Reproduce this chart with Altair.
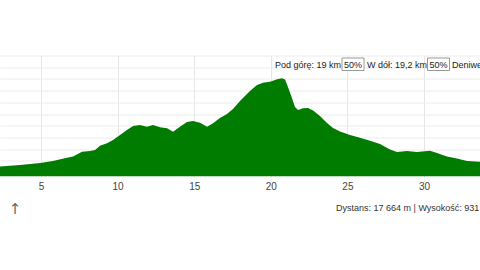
import altair as alt
import pandas as pd

# Elevation profile of the route (distance in km, elevation in m)
km = [2.32, 3.63, 4.94, 5.78, 6.70, 7.09, 7.68, 8.20, 8.53, 8.85, 9.31, 9.70,
      10.16, 10.61, 11.01, 11.46, 11.92, 12.31, 12.77, 13.23, 13.62, 14.07,
      14.53, 14.92, 15.38, 15.84, 16.23, 16.68, 17.14, 17.53, 17.99, 18.64,
      19.10, 19.49, 19.95, 20.41, 20.73, 20.93, 21.12, 21.38, 21.58, 21.78,
      22.10, 22.43, 22.76, 23.21, 23.67, 24.06, 24.52, 25.17, 25.82, 26.48,
      27.13, 27.78, 28.24, 28.89, 29.54, 30.39, 30.85, 31.50, 32.15, 32.81,
      33.66]
elev = [351, 364, 381, 398, 427, 437, 478, 484, 492, 529, 550, 578,
        621, 663, 698, 706, 692, 706, 686, 678, 649, 692,
        732, 740, 726, 692, 720, 766, 800, 843, 911, 997,
        1048, 1068, 1076, 1097, 1105, 1095, 1031, 937, 860, 834,
        849, 851, 830, 783, 723, 680, 651, 621, 598, 572,
        544, 497, 475, 484, 475, 486, 467, 437, 420, 398,
        392]

km_ticks = [5, 10, 15, 20, 25, 30]
elev_ticks = [300, 400, 500, 600, 700, 800, 900, 1000, 1100, 1200, 1300]
km_domain = [2.324, 33.656]
elev_domain = [266, 1300]

header_parts = ["Pod górę: 19 km", "50%", "W dół: 19,2 km", "50%", "Deniwelacja"]
footer_text = "Dystans: 17 664 m | Wysokość: 931"

profile = pd.DataFrame({"km": km, "elev": elev})
one = pd.DataFrame({"k": [0]})  # single row for annotation marks

FONT = "Liberation Sans"
W, H = 480, 121

area = alt.Chart(profile).mark_area(color="#007c00", clip=True).encode(
    x=alt.X(
        "km:Q",
        scale=alt.Scale(domain=km_domain, nice=False, zero=False),
        axis=alt.Axis(values=km_ticks, grid=True, gridColor="#e6e6e6", ticks=False,
                      domain=False, title=None, labelFont=FONT, labelFontSize=10,
                      labelColor="#444444", labelPadding=5),
    ),
    y=alt.Y(
        "elev:Q",
        scale=alt.Scale(domain=elev_domain, nice=False, zero=False),
        axis=alt.Axis(values=elev_ticks, grid=True, gridColor="#ececec", ticks=False,
                      domain=False, labels=False, title=None),
    ),
    y2=alt.datum(elev_domain[0]),
)

layers = [area]

# Header line: plain parts are left-aligned at their x, boxed percentages centred in a frame
header_x = [275, 353, 367, 438.5, 452]
for txt, hx in zip(header_parts, header_x):
    boxed = txt == "50%"
    if boxed:
        layers.append(
            alt.Chart(one).mark_rect(fill="white", stroke="#999999", strokeWidth=1).encode(
                x=alt.value(hx - 11), x2=alt.value(hx + 11),
                y=alt.value(2.5), y2=alt.value(15),
            )
        )
    layers.append(
        alt.Chart(one).mark_text(
            text=txt, font=FONT, fontSize=9, color="#222222",
            align="center" if boxed else "left", baseline="middle"
        ).encode(x=alt.value(hx), y=alt.value(9))
    )

layers.append(
    alt.Chart(one).mark_text(
        text=footer_text, font=FONT, fontSize=9, color="#333333", align="left", baseline="middle"
    ).encode(x=alt.value(336), y=alt.value(152.5))
)
layers.append(
    alt.Chart(one).mark_text(
        text="↑", font="DejaVu Sans", fontSize=15, color="#666666", align="center", baseline="middle"
    ).encode(x=alt.value(15), y=alt.value(153))
)

chart = alt.layer(*layers).properties(
    width=W, height=H,
    autosize=alt.AutoSizeParams(type="none"),
    padding={"left": 0, "right": 0, "top": 55.5, "bottom": 93.5},
).configure_view(stroke=None)

chart.save("out.html", embed_options={"renderer": "svg", "actions": False})
